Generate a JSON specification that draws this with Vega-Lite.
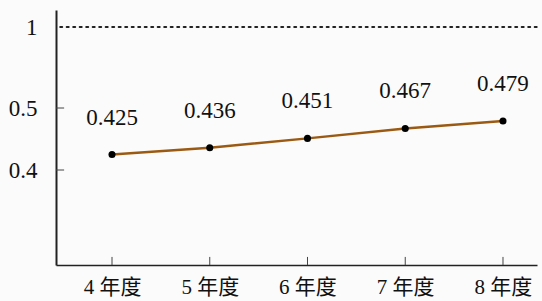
{
  "$schema": "https://vega.github.io/schema/vega-lite/v6.json",
  "width": 481,
  "height": 255,
  "autosize": {"type": "none"},
  "padding": {"left": 56, "top": 10, "right": 5, "bottom": 36},
  "background": "#fbfbfb",
  "config": {"view": {"stroke": null}, "font": "Liberation Serif, Times New Roman, serif"},
  "data": {"values": [
    {"n": 4, "year": "4年度", "value": 0.425},
    {"n": 5, "year": "5年度", "value": 0.436},
    {"n": 6, "year": "6年度", "value": 0.451},
    {"n": 7, "year": "7年度", "value": 0.467},
    {"n": 8, "year": "8年度", "value": 0.479}
  ]},
  "encoding": {
    "x": {"field": "n", "type": "quantitative",
      "scale": {"domain": [3.427, 8.348], "nice": false, "zero": false},
      "axis": {"title": null, "values": [4, 5, 6, 7, 8], "grid": false, "domainColor": "#222", "domainWidth": 1.5,
        "ticks": false, "labelPadding": 11,
        "labelExpr": "datum.value + ' 年度'",
        "labelFont": "Liberation Serif, Noto Sans CJK SC, serif", "labelFontSize": 21, "labelColor": "#111"}},
    "y": {"field": "value", "type": "quantitative",
      "scale": {"domain": [0.247, 0.4, 0.5, 1, 1.2], "range": [255, 160, 98, 17, 0], "zero": false, "nice": false},
      "axis": {"title": null, "values": [0.4, 0.5, 1], "grid": false, "domainColor": "#222", "domainWidth": 2,
        "ticks": false, "labelPadding": 19, "labelFont": "Liberation Serif, Times New Roman, serif", "labelFontSize": 23, "labelColor": "#111",
        "labelExpr": "datum.value == 1 ? '1' : format(datum.value, '.1f')"}}
  },
  "layer": [
    {"mark": {"type": "rule", "strokeDash": [2, 4.5], "strokeWidth": 2, "color": "#222", "strokeCap": "round"},
     "data": {"values": [{"ref": 1, "a": 3.47, "b": 8.348}]},
     "encoding": {"y": {"field": "ref", "type": "quantitative"}, "x": {"field": "a", "type": "quantitative"}, "x2": {"field": "b"}}},
    {"mark": {"type": "rule", "color": "#444", "strokeWidth": 1},
     "data": {"values": [{"t": 0.4, "a": 3.427, "b": 3.51}, {"t": 0.5, "a": 3.427, "b": 3.51}]},
     "encoding": {"y": {"field": "t", "type": "quantitative"}, "x": {"field": "a", "type": "quantitative"}, "x2": {"field": "b"}}},
    {"mark": {"type": "rule", "color": "#444", "strokeWidth": 1},
     "data": {"values": [{"n": 4, "lo": 0.247, "hi": 0.26}, {"n": 5, "lo": 0.247, "hi": 0.26}, {"n": 6, "lo": 0.247, "hi": 0.26}, {"n": 7, "lo": 0.247, "hi": 0.26}, {"n": 8, "lo": 0.247, "hi": 0.26}]},
     "encoding": {"y": {"field": "lo", "type": "quantitative"}, "y2": {"field": "hi"}}},
    {"mark": {"type": "line", "color": "#9a5a12", "strokeWidth": 2.5}},
    {"mark": {"type": "point", "filled": true, "color": "#000", "size": 50, "opacity": 1}},
    {"mark": {"type": "text", "dy": -37, "fontSize": 23, "font": "Liberation Serif, Times New Roman, serif", "color": "#111"},
     "encoding": {"text": {"field": "value", "type": "quantitative", "format": ".3f"}}}
  ]
}
